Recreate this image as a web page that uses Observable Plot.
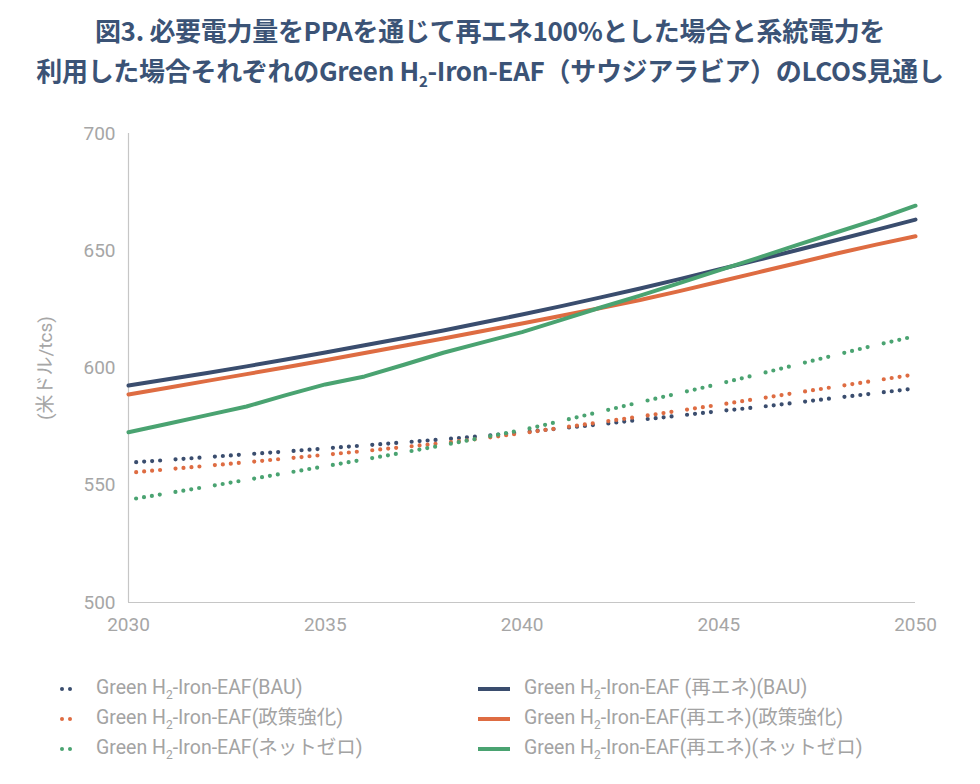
<!DOCTYPE html>
<html>
<head>
<meta charset="utf-8">
<script src="https://cdn.jsdelivr.net/npm/d3@7"></script>
<script src="https://cdn.jsdelivr.net/npm/@observablehq/plot@0.6"></script>
<style>
  html, body { margin: 0; padding: 0; background: #fff; }
  #wrap { position: relative; width: 980px; height: 784px; overflow: hidden; font-family: Roboto, "Noto Sans CJK JP", sans-serif; }
  #title { position: absolute; left: 0; top: 10px; width: 980px; text-align: center; font-family: "Noto Sans CJK JP", Roboto, sans-serif; font-weight: 700; font-size: 26px; line-height: 40px; color: #3b5376; letter-spacing: -0.3px; }
  #title sub { font-size: 15px; vertical-align: -6px; line-height: 0; }
  #chart { position: absolute; left: 0; top: 100px; }
  .leg { position: absolute; font-size: 19.5px; color: #a3a3a3; white-space: nowrap; line-height: 22px; }
  .leg sub { font-size: 12px; vertical-align: -5px; line-height: 0; }
  .sw { position: absolute; }
</style>
</head>
<body>
<div id="wrap">
  <div id="title">図3. 必要電力量をPPAを通じて再エネ100%とした場合と系統電力を<br>利用した場合それぞれのGreen H<sub>2</sub>-Iron-EAF（サウジアラビア）のLCOS見通し</div>
  <div id="chart"></div>
  <div id="legend"></div>
</div>
<script>
const years = [2030,2031,2032,2033,2034,2035,2036,2037,2038,2039,2040,2041,2042,2043,2044,2045,2046,2047,2048,2049,2050];

// 系統電力 (dotted)
const bauGrid     = [559.6,560.8,562.0,563.2,564.4,565.7,567.0,568.3,569.6,571.0,572.6,574.3,576.0,577.9,579.7,581.6,583.3,585.3,587.3,589.3,591.3];
const policyGrid  = [555.3,556.8,558.3,559.8,561.4,563.0,564.6,566.3,568.0,570.0,572.2,574.5,576.9,579.3,581.8,584.3,586.9,589.5,592.1,594.7,597.3];
const netzeroGrid = [543.8,546.6,549.4,552.3,555.2,558.1,561.0,564.0,567.1,570.3,573.5,577.4,581.4,585.4,589.3,593.2,597.3,601.5,605.7,609.8,613.6];

// 再エネ (solid)
const bauRe     = [592.5,595.2,597.9,600.7,603.6,606.6,609.7,612.8,616.0,619.4,622.8,626.4,630.1,633.9,637.9,642.0,646.1,650.3,654.6,658.9,663.3];
const policyRe  = [588.7,591.6,594.5,597.4,600.3,603.3,606.4,609.5,612.6,615.8,619.0,622.3,625.6,629.0,632.8,636.8,640.8,644.8,648.8,652.6,656.2];
const netzeroRe = [572.6,576.2,579.9,583.6,588.4,593.0,596.4,601.4,606.5,610.9,615.3,620.5,625.8,630.9,636.2,641.6,647.0,652.5,657.9,663.3,669.2];

const xTicks = [2030,2035,2040,2045,2050];
const yTicks = [500,550,600,650,700];

const seriesNames = ["BAU","政策強化","ネットゼロ"];
const seriesColors = ["#3a4d6e","#de6c42","#4aa371"];

const dotted = [bauGrid, policyGrid, netzeroGrid];
const solid = [bauRe, policyRe, netzeroRe];

const solidRows = [];
solid.forEach((arr, i) => arr.forEach((v, j) => solidRows.push({series: seriesNames[i], year: years[j], value: v})));

const segRows = [];
dotted.forEach((arr, i) => {
  for (let j = 0; j < arr.length - 1; j++) {
    segRows.push({series: seriesNames[i], x1: years[j], y1: arr[j], x2: years[j+1], y2: arr[j+1]});
  }
});

const chart = Plot.plot({
  width: 980,
  height: 547,
  marginTop: 33,
  marginBottom: 45,
  marginLeft: 128,
  marginRight: 65,
  style: {fontFamily: "Roboto, 'Noto Sans CJK JP', sans-serif", fontSize: "19px", color: "#a6a6a6", background: "transparent"},
  x: {domain: [2030, 2050]},
  y: {domain: [500, 700]},
  color: {domain: seriesNames, range: seriesColors},
  marks: [
    Plot.ruleX([2030], {stroke: "#c6c6c6", strokeWidth: 1.2}),
    Plot.ruleY([500], {stroke: "#c6c6c6", strokeWidth: 1.2}),
    Plot.axisX({ticks: xTicks, tickFormat: d => String(d), tickSize: 0, tickPadding: 15, label: null, fill: "#a6a6a6", fontSize: 19}),
    Plot.axisY({ticks: yTicks, tickSize: 0, tickPadding: 13, label: "(米ドル/tcs)", labelAnchor: "center", labelArrow: "none", labelOffset: 90, fill: "#a6a6a6", fontSize: 19}),
    Plot.link(segRows, {x1: "x1", y1: "y1", x2: "x2", y2: "y2", stroke: "series", strokeWidth: 4.2, strokeLinecap: "round", strokeDasharray: "0,8,0,8,0,8,0,100", strokeDashoffset: 116.3}),
    Plot.line(solidRows, {x: "year", y: "value", z: "series", stroke: "series", strokeWidth: 4, strokeLinecap: "round", strokeLinejoin: "round"})
  ]
});
document.getElementById("chart").appendChild(chart);

// legend
const legend = document.getElementById("legend");
const rowsY = [689, 719, 749];
const label = "Green H<sub>2</sub>-Iron-EAF";
seriesNames.forEach((name, i) => {
  const y = rowsY[i];
  const s1 = document.createElementNS("http://www.w3.org/2000/svg", "svg");
  s1.setAttribute("width", 30); s1.setAttribute("height", 10);
  s1.setAttribute("class", "sw");
  s1.style.left = "55px"; s1.style.top = (y - 5) + "px";
  s1.innerHTML = `<circle cx="7" cy="5" r="2" fill="${seriesColors[i]}"/><circle cx="15" cy="5" r="2" fill="${seriesColors[i]}"/>`;
  legend.appendChild(s1);
  const t1 = document.createElement("div");
  t1.className = "leg";
  t1.style.left = "96px"; t1.style.top = (y - 12) + "px";
  t1.innerHTML = `${label}(${name})`;
  legend.appendChild(t1);
  const s2 = document.createElementNS("http://www.w3.org/2000/svg", "svg");
  s2.setAttribute("width", 36); s2.setAttribute("height", 10);
  s2.setAttribute("class", "sw");
  s2.style.left = "476px"; s2.style.top = (y - 5) + "px";
  s2.innerHTML = `<line x1="2" y1="5" x2="34" y2="5" stroke="${seriesColors[i]}" stroke-width="4"/>`;
  legend.appendChild(s2);
  const t2 = document.createElement("div");
  t2.className = "leg";
  t2.style.left = "524px"; t2.style.top = (y - 12) + "px";
  t2.innerHTML = `${label}${i === 0 ? " " : ""}(再エネ)(${name})`;
  legend.appendChild(t2);
});
</script>
</body>
</html>
